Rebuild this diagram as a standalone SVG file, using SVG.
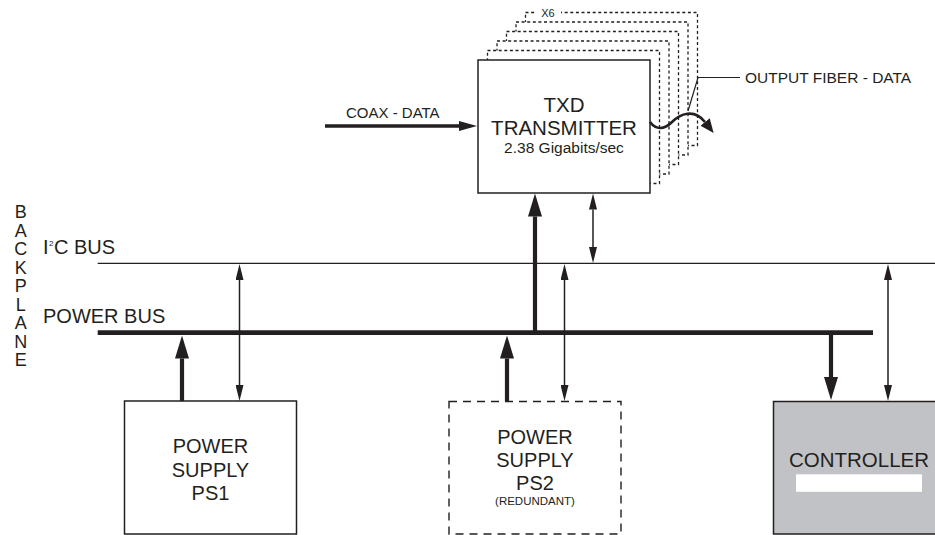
<svg xmlns="http://www.w3.org/2000/svg" width="935" height="535" viewBox="0 0 935 535">
<style>
text{font-family:"Liberation Sans",Arial,sans-serif;fill:#231f20}
.box{fill:#fff;stroke:#231f20;stroke-width:1.5}
.stack{fill:#fff;stroke:#231f20;stroke-width:1.3;stroke-dasharray:3 2.6}
.thick{stroke:#231f20;stroke-width:4.2;fill:none}
.thin{stroke:#231f20;stroke-width:1.5;fill:none}
.lbl{font-size:20px}
.mid{text-anchor:middle}
</style>
<defs>
<marker id="big" viewBox="0 -7 23 14" markerWidth="23" markerHeight="14" refX="0" refY="0" orient="auto" markerUnits="userSpaceOnUse"><path d="M0,-7 L23,0 L0,7 z" fill="#231f20"/></marker>
<marker id="sm" viewBox="0 -4 16 8" markerWidth="16" markerHeight="8" refX="0" refY="0" orient="auto-start-reverse" markerUnits="userSpaceOnUse"><path d="M0,-4 L16,0 L0,4 z" fill="#231f20"/></marker>
<marker id="coax" viewBox="0 -5 18 10" markerWidth="18" markerHeight="10" refX="0" refY="0" orient="auto" markerUnits="userSpaceOnUse"><path d="M0,-5 L18,0 L0,5 z" fill="#231f20"/></marker>
<marker id="fib" viewBox="0 -6 14 12" markerWidth="14" markerHeight="12" refX="0" refY="0" orient="auto" markerUnits="userSpaceOnUse"><path d="M0,-6 L14,0 L0,6 z" fill="#231f20"/></marker>
</defs>

<g id="backplane">
<text x="20.7" y="218.3" class="mid" style="font-size:18px"><tspan x="20.7">B</tspan><tspan x="20.7" dy="18.5">A</tspan><tspan x="20.7" dy="18.5">C</tspan><tspan x="20.7" dy="18.5">K</tspan><tspan x="20.7" dy="18.5">P</tspan><tspan x="20.7" dy="18.5">L</tspan><tspan x="20.7" dy="18.5">A</tspan><tspan x="20.7" dy="18.5">N</tspan><tspan x="20.7" dy="18.5">E</tspan></text>
</g>

<g id="i2c-bus">
<text x="43" y="254" class="lbl">I<tspan font-size="8" dx="0.5" dy="-8">2</tspan><tspan dy="8" dx="0.5">C BUS</tspan></text>
<line x1="97.7" y1="263.3" x2="935" y2="263.3" stroke="#231f20" stroke-width="1.3"/>
</g>

<g id="power-bus">
<text x="43" y="322.7" class="lbl">POWER BUS</text>
<line x1="97.7" y1="332.7" x2="873" y2="332.7" stroke="#231f20" stroke-width="4.7"/>
</g>

<g id="txd">
<rect class="stack" x="525.5" y="12.5" width="172" height="133"/>
<rect class="stack" x="516" y="22" width="172" height="133"/>
<rect class="stack" x="506.5" y="31.5" width="172" height="133"/>
<rect class="stack" x="497" y="41" width="172" height="133"/>
<rect class="stack" x="487.5" y="50.5" width="172" height="133"/>
<rect x="535" y="6" width="26" height="12" fill="#fff"/>
<text x="548" y="17" class="mid" style="font-size:11px">X6</text>
<rect class="box" x="478" y="60" width="172" height="133"/>
<text x="564" y="111.7" class="mid" style="font-size:20.5px">TXD</text>
<text x="564" y="135" class="mid" style="font-size:20.5px">TRANSMITTER</text>
<text x="564" y="152.7" class="mid" style="font-size:15.5px">2.38 Gigabits/sec</text>
</g>

<g id="ps1">
<rect class="box" x="124.5" y="401" width="172" height="133"/>
<text x="210.5" y="453.3" class="lbl mid">POWER</text>
<text x="210.5" y="476.5" class="lbl mid">SUPPLY</text>
<text x="210.5" y="499.5" class="lbl mid">PS1</text>
</g>

<g id="ps2">
<rect x="449" y="401.5" width="172" height="132.5" fill="#fff" stroke="#231f20" stroke-width="1.4" stroke-dasharray="8 6"/>
<text x="535" y="443.5" class="lbl mid">POWER</text>
<text x="535" y="466.5" class="lbl mid">SUPPLY</text>
<text x="535" y="490" class="lbl mid">PS2</text>
<text x="535" y="505" class="mid" style="font-size:11.5px">(REDUNDANT)</text>
</g>

<g id="controller">
<rect x="773.5" y="401.5" width="172" height="132.5" fill="#c1c2c5" stroke="#231f20" stroke-width="1.5"/>
<text x="859" y="467.3" class="mid" style="font-size:20.5px">CONTROLLER</text>
<rect x="796" y="474.3" width="126" height="17.5" fill="#fff"/>
</g>

<g id="connectors">
<line class="thick" x1="325" y1="126" x2="459" y2="126" marker-end="url(#coax)" style="stroke-width:3.6"/>
<text x="346" y="118.3" style="font-size:15px">COAX - DATA</text>
<path d="M650,122 C656,130 664,130 672,122 C680,114 694,108 705,122" fill="none" stroke="#231f20" stroke-width="2.6" marker-end="url(#fib)"/>
<polyline points="688,111 698,77.5 740,77.5" fill="none" stroke="#231f20" stroke-width="1.2"/>
<text x="745" y="83.3" style="font-size:15.5px">OUTPUT FIBER - DATA</text>

<line class="thick" x1="182" y1="401" x2="182" y2="358.5" marker-end="url(#big)"/>
<line class="thin" x1="239.5" y1="280" x2="239.5" y2="385" marker-start="url(#sm)" marker-end="url(#sm)"/>

<line class="thick" x1="507" y1="401" x2="507" y2="358.5" marker-end="url(#big)"/>
<line class="thin" x1="564.5" y1="280" x2="564.5" y2="385" marker-start="url(#sm)" marker-end="url(#sm)"/>

<line class="thick" x1="535" y1="334" x2="535" y2="216.5" marker-end="url(#big)"/>
<line class="thin" x1="593" y1="209.5" x2="593" y2="247" marker-start="url(#sm)" marker-end="url(#sm)"/>

<line class="thick" x1="831" y1="332" x2="831" y2="377" marker-end="url(#big)"/>
<line class="thin" x1="888" y1="280" x2="888" y2="385" marker-start="url(#sm)" marker-end="url(#sm)"/>
</g>
</svg>
